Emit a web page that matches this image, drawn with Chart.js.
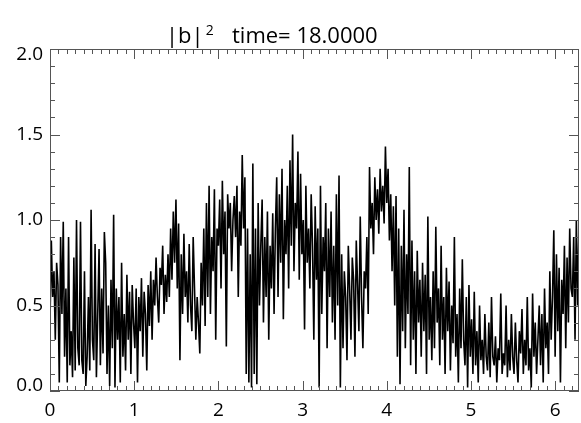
<!DOCTYPE html>
<html>
<head>
<meta charset="utf-8">
<script src="https://cdn.jsdelivr.net/npm/chart.js@4"></script>
<style>
  html, body { margin: 0; padding: 0; background: #fff; }
  #wrap { width: 581px; height: 423px; }
</style>
</head>
<body>
<div id="wrap"><canvas id="chart" width="581" height="423"></canvas></div>
<script>
// |b|^2 along x in [0, 2pi]
const b2 = [
  0.40, 0.88, 0.55, 0.70, 0.30, 0.75, 0.62, 0.05, 0.90, 0.45,
  0.99, 0.20, 0.60, 0.05, 0.90, 0.15, 0.35, 0.08, 0.78, 0.12,
  1.00, 0.25, 0.15, 0.99, 0.18, 0.10, 0.70, 0.03, 0.20, 0.55,
  0.12, 1.06, 0.30, 0.18, 0.86, 0.08, 0.45, 0.83, 0.15, 0.60,
  0.22, 0.93, 0.75, 0.10, 0.50, 0.03, 0.65, 0.25, 1.03, 0.02,
  0.60, 0.30, 0.55, 0.05, 0.75, 0.20, 0.45, 0.12, 0.68, 0.30,
  0.58, 0.10, 0.62, 0.40, 0.25, 0.60, 0.05, 0.55, 0.35, 0.66,
  0.20, 0.58, 0.45, 0.12, 0.62, 0.38, 0.70, 0.30, 0.65, 0.50,
  0.78, 0.55, 0.40, 0.72, 0.62, 0.85, 0.45, 0.68, 0.52, 0.80,
  0.55, 0.95, 0.65, 1.05, 0.75, 1.12, 0.60, 0.98, 0.18, 0.80,
  0.45, 0.92, 0.55, 0.70, 0.40, 0.86, 0.50, 0.35, 0.90, 0.60,
  0.30, 0.55, 0.40, 0.22, 0.75, 0.50, 0.95, 0.38, 1.10, 0.55,
  1.20, 0.45, 0.90, 0.70, 1.18, 0.30, 0.95, 0.85, 1.12, 0.60,
  1.23, 0.80, 1.05, 0.26, 1.15, 0.95, 1.10, 0.70, 1.00, 1.14,
  0.90, 1.20, 0.55, 1.05, 0.85, 1.38, 0.95, 1.25, 0.10, 0.95,
  0.05, 0.80, 0.02, 1.33, 0.10, 0.95, 0.04, 1.10, 0.50, 0.85,
  1.12, 0.40, 0.90, 0.55, 1.05, 0.30, 0.85, 0.60, 1.04, 0.45,
  0.95, 1.25, 0.55, 1.15, 0.75, 1.30, 0.42, 1.00, 0.80, 1.20,
  0.60, 1.35, 0.85, 1.50, 0.70, 1.10, 0.95, 1.40, 0.65, 1.27,
  0.80, 1.00, 0.36, 1.20, 0.75, 0.95, 0.60, 1.15, 0.85, 0.30,
  1.08, 0.65, 0.95, 0.02, 1.20, 0.45, 0.90, 0.70, 1.10, 0.25,
  0.95, 0.55, 1.05, 0.40, 0.85, 0.30, 1.15, 0.50, 1.26, 0.02,
  0.80, 0.25, 0.70, 0.55, 0.18, 0.85, 0.60, 0.30, 0.78, 0.65,
  0.20, 0.88, 0.62, 0.35, 1.02, 0.55, 0.25, 0.70, 0.60, 0.90,
  0.45, 1.31, 0.95, 1.10, 0.80, 1.25, 1.00, 1.18, 0.92, 1.30,
  1.05, 1.20, 0.98, 1.43, 1.10, 1.30, 0.88, 1.15, 0.70, 1.08,
  0.50, 1.14, 0.20, 0.95, 0.04, 0.85, 0.35, 1.06, 0.25, 0.80,
  0.45, 1.31, 0.15, 0.88, 0.30, 0.70, 0.10, 0.82, 0.40, 0.65,
  0.20, 0.75, 0.35, 0.68, 0.10, 1.02, 0.30, 0.55, 0.18, 0.70,
  0.25, 0.96, 0.40, 0.60, 0.15, 0.85, 0.30, 0.55, 0.10, 0.72,
  0.35, 0.64, 0.12, 0.50, 0.28, 0.90, 0.20, 0.45, 0.05, 0.60,
  0.25, 0.77, 0.30, 0.15, 0.55, 0.02, 0.62, 0.20, 0.42, 0.10,
  0.58, 0.15, 0.35, 0.05, 0.50, 0.18, 0.30, 0.10, 0.45, 0.20,
  0.12, 0.40, 0.08, 0.55, 0.20, 0.15, 0.32, 0.05, 0.25, 0.18,
  0.57, 0.10, 0.22, 0.15, 0.50, 0.08, 0.30, 0.12, 0.45, 0.20,
  0.10, 0.40, 0.18, 0.05, 0.35, 0.22, 0.48, 0.10, 0.30, 0.15,
  0.55, 0.12, 0.25, 0.02, 0.57, 0.20, 0.40, 0.10, 0.30, 0.50,
  0.15, 0.45, 0.05, 0.60, 0.25, 0.40, 0.10, 0.70, 0.30, 0.55,
  0.94, 0.20, 0.80, 0.35, 0.72, 0.05, 0.65, 0.45, 0.85, 0.25,
  0.78, 0.40, 0.95, 0.60, 0.55, 0.90, 0.30, 1.00, 0.50, 0.97
];
const xMax = 2 * Math.PI;
const xTickLabels = ["0", "1", "2", "3", "4", "5", "6"];
const yTickLabels = ["0.0", "0.5", "1.0", "1.5", "2.0"];
const titleParts = ["|b|", "2", "time= 18.0000"];

// evenly spaced sample grid over [0, 2pi]
const points = b2.map((v, i) => ({ x: i * xMax / (b2.length - 1), y: v }));

const FONT = "'Open Sans', 'Noto Sans', sans-serif";

// IDL-style frame: inward ticks on all four sides, labels, title
const idlFrame = {
    id: "idlFrame",
    afterDraw(chart) {
        const ctx = chart.ctx;
        const xs = chart.scales.x, ys = chart.scales.y;
        const a = chart.chartArea;
        ctx.save();
        ctx.strokeStyle = "#555";
        ctx.lineWidth = 1;
        ctx.strokeRect(a.left + 0.5, a.top + 0.5, a.right - a.left - 1, a.bottom - a.top - 1);

        ctx.beginPath();
        // x ticks every 0.1, major every 1
        for (let k = 0; k <= 62; k++) {
            const px = Math.round(xs.getPixelForValue(k / 10)) + 0.5;
            const len = k % 10 === 0 ? 10 : 5;
            ctx.moveTo(px, a.bottom); ctx.lineTo(px, a.bottom - len);
            ctx.moveTo(px, a.top); ctx.lineTo(px, a.top + len);
        }
        // y ticks every 0.1, major every 0.5
        for (let k = 0; k <= 20; k++) {
            const py = Math.round(ys.getPixelForValue(k / 10)) + 0.5;
            const len = k % 5 === 0 ? 10 : 5;
            ctx.moveTo(a.left, py); ctx.lineTo(a.left + len, py);
            ctx.moveTo(a.right, py); ctx.lineTo(a.right - len, py);
        }
        ctx.stroke();

        ctx.fillStyle = "#000";
        ctx.font = "19px " + FONT;
        ctx.textAlign = "center";
        ctx.textBaseline = "middle";
        xTickLabels.forEach((t, i) => {
            ctx.fillText(t, xs.getPixelForValue(i), 411);
        });
        ctx.textAlign = "right";
        yTickLabels.forEach((t, i) => {
            let py = ys.getPixelForValue(i * 0.5);
            py = Math.min(Math.max(py, 55), 386);
            ctx.fillText(t, 43, py);
        });

        // title with superscript
        ctx.textAlign = "left";
        ctx.textBaseline = "alphabetic";
        ctx.font = "22px " + FONT;
        ctx.fillText(titleParts[0], 166, 43);
        const w0 = ctx.measureText(titleParts[0]).width;
        ctx.font = "14px " + FONT;
        ctx.fillText(titleParts[1], 166 + w0 + 2, 35);
        ctx.font = "22px " + FONT;
        ctx.fillText(titleParts[2], 232, 43);
        ctx.restore();
    }
};

new Chart(document.getElementById("chart"), {
    type: "line",
    data: {
        datasets: [{
            data: points,
            borderColor: "#000",
            borderWidth: 1.6,
            pointRadius: 0,
            tension: 0,
            fill: false
        }]
    },
    options: {
        responsive: false,
        animation: false,
        layout: { padding: { left: 50, right: 2, top: 49, bottom: 32 } },
        plugins: { legend: { display: false }, title: { display: false }, tooltip: { enabled: false } },
        scales: {
            x: { type: "linear", min: 0, max: xMax, display: false },
            y: { type: "linear", min: 0, max: 2, display: false }
        }
    },
    plugins: [idlFrame]
});
</script>
</body>
</html>
